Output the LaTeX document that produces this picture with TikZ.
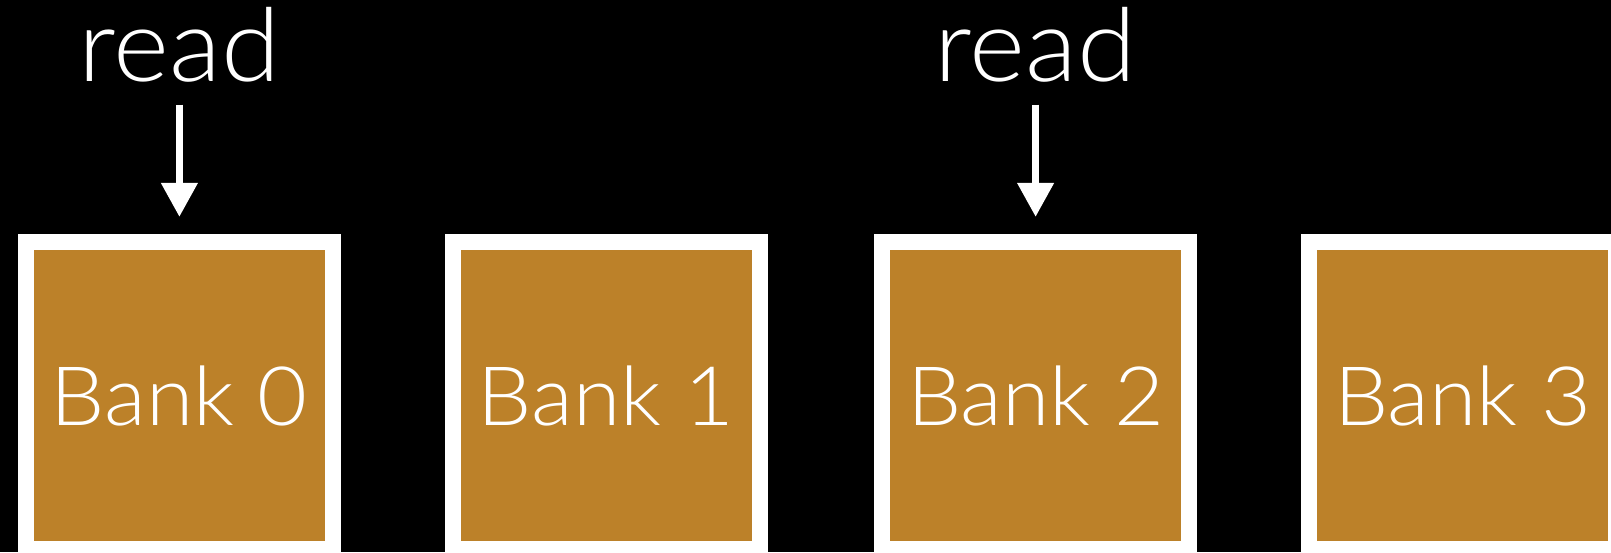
\documentclass[tikz,border=0pt]{standalone}
\usepackage{fontspec}
\setmainfont{Lato}[UprightFont=* Light, FakeStretch=1.05]
\usetikzlibrary{arrows.meta}
\definecolor{bankfill}{RGB}{188,129,41}
\tikzset{
  bank/.style={draw=white, fill=bankfill, line width=8pt, minimum width=153.5pt,
    minimum height=153.5pt, inner sep=0pt, text=white, font=\fontsize{41pt}{48pt}\selectfont},
  label/.style={text=white, inner sep=0pt, anchor=base, font=\fontsize{51pt}{60pt}\selectfont},
  readarrow/.style={draw=white, line width=3.65pt,
    -{Triangle[width=17.5pt, length=17pt]}, shorten <=10.8pt, shorten >=8.65pt}
}
\begin{document}
\begin{tikzpicture}[x=0.5pt, y=-0.5pt]
  \fill[black] (0,0) rectangle (1611,552);
  \useasboundingbox (0,0) rectangle (1611,552);
  \clip (0,0) rectangle (1611,552);
  % memory banks
  \node[bank] (b0) at (179.4,395.7) {Bank 0};
  \node[bank] (b1) at (606.3,395.7) {Bank 1};
  \node[bank] (b2) at (1035.6,395.7) {Bank 2};
  \node[bank] (b3) at (1462.6,395.7) {Bank 3};
  % read requests
  \node[label] (r0) at (179.4,81.7) {read};
  \node[label] (r2) at (1035.6,81.7) {read};
  \draw[readarrow] (r0.south) -- (b0.north);
  \draw[readarrow] (r2.south) -- (b2.north);
\end{tikzpicture}
\end{document}
